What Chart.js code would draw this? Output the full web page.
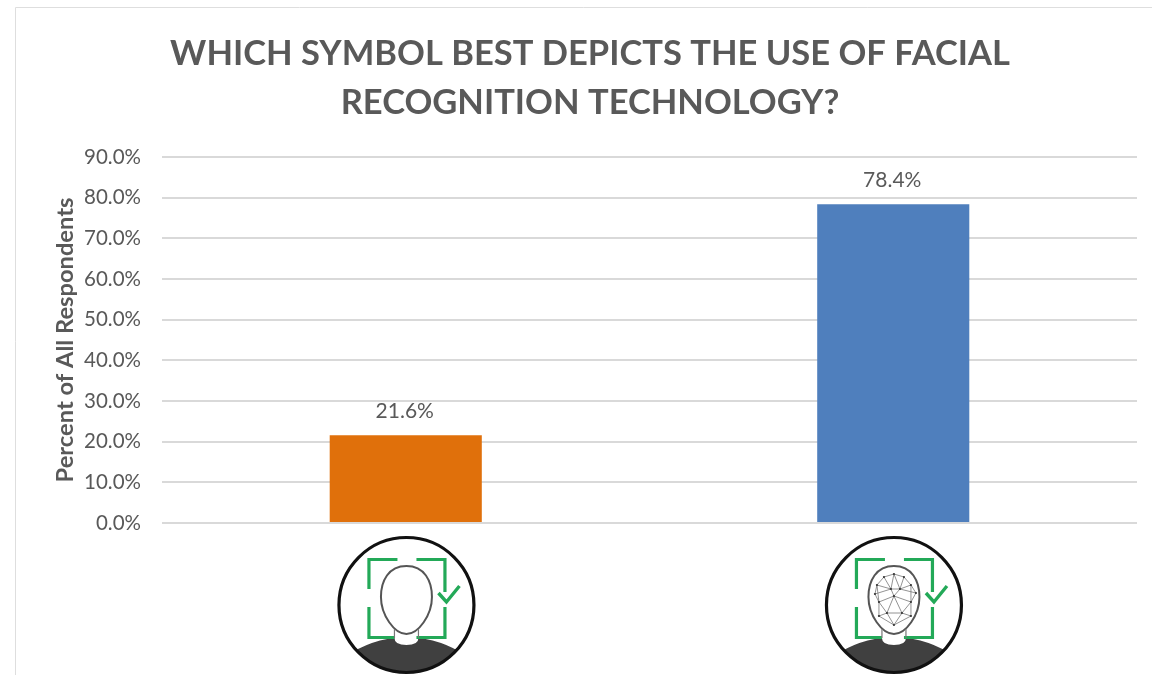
<!DOCTYPE html>
<html>
<head>
<meta charset="utf-8">
<style>
html,body{margin:0;padding:0;background:#fff;overflow:hidden}
#wrap{width:1152px;height:675px;position:relative}
canvas{filter:blur(0.5px)}
</style>
<script src="https://cdn.jsdelivr.net/npm/chart.js@4/dist/chart.umd.min.js"></script>
</head>
<body>
<div id="wrap"><canvas id="c" width="1152" height="675"></canvas></div>
<script>
const categories = ['Face outline symbol', 'Face mesh symbol'];
const percentValues = [21.6, 78.4];
const barColors = ['#E0700B', '#4F7FBD'];
const titleLines = ['WHICH SYMBOL BEST DEPICTS THE USE OF FACIAL', 'RECOGNITION TECHNOLOGY?'];
const yAxisTitle = 'Percent of All Respondents';
const textColor = '#595959';
const FONT = 'Lato, Carlito, "Open Sans", sans-serif';

const meshNodes = [[0,-31],[-10,-28],[10,-28],[17,-20],[-17,-20],[-19,-11],[-3,-16],[6,-16],[22,-12],[-15,-3],[0,-9],[17,-3],[-7,8],[8,8],[-15,11],[17,11],[0,20]];
const meshEdges = [[0,1],[0,2],[1,4],[2,3],[3,8],[4,5],[0,6],[0,7],[1,6],[2,7],[4,6],[3,7],[6,7],[5,9],[8,11],[6,10],[7,10],[4,9],[3,11],[9,10],[10,11],[10,12],[10,13],[9,12],[11,13],[9,14],[11,15],[12,13],[12,14],[13,15],[12,16],[13,16],[14,16],[15,16],[5,6],[7,8]];

function drawIcon(ctx, cx, cy, withMesh) {
  ctx.save();
  ctx.translate(cx, cy);
  ctx.save();
  ctx.beginPath(); ctx.arc(0, 0, 67.5, 0, Math.PI * 2); ctx.clip();
  ctx.fillStyle = '#404040';
  ctx.beginPath();
  ctx.moveTo(-70, 75);
  ctx.lineTo(-70, 58);
  ctx.quadraticCurveTo(-42, 36, -12, 33);
  ctx.quadraticCurveTo(-12, 40, 0, 40);
  ctx.quadraticCurveTo(12, 40, 12, 33);
  ctx.quadraticCurveTo(42, 36, 70, 58);
  ctx.lineTo(70, 75);
  ctx.closePath();
  ctx.fill();
  ctx.restore();
  ctx.strokeStyle = '#111';
  ctx.lineWidth = 3.2;
  ctx.beginPath(); ctx.arc(0, 0, 67.5, 0, Math.PI * 2); ctx.stroke();
  ctx.strokeStyle = '#23A958';
  ctx.lineWidth = 3.2;
  const L = -37.5, R = 38.5, T = -45.5, B = 32.5;
  [[[L,-16],[L,T],[-9,T]], [[10,T],[R,T],[R,-13]], [[L,2],[L,B],[-12,B]], [[R,2],[R,B],[10,B]]].forEach(seg => {
    ctx.beginPath();
    seg.forEach((p, i) => i ? ctx.lineTo(p[0], p[1]) : ctx.moveTo(p[0], p[1]));
    ctx.stroke();
  });
  ctx.lineWidth = 3.4;
  ctx.beginPath(); ctx.moveTo(32, -12); ctx.lineTo(40, -3); ctx.lineTo(53, -19); ctx.stroke();
  ctx.fillStyle = '#fff';
  ctx.strokeStyle = '#555';
  ctx.lineWidth = 2;
  ctx.beginPath();
  ctx.moveTo(0, -39);
  ctx.bezierCurveTo(18, -39, 25.5, -24, 25.5, -8);
  ctx.bezierCurveTo(25.5, 10, 12, 29, 0, 29);
  ctx.bezierCurveTo(-12, 29, -25.5, 10, -25.5, -8);
  ctx.bezierCurveTo(-25.5, -24, -18, -39, 0, -39);
  ctx.closePath();
  ctx.fill(); ctx.stroke();
  ctx.strokeStyle = '#777';
  ctx.lineWidth = 1.2;
  ctx.beginPath(); ctx.moveTo(-12, 24); ctx.lineTo(-12, 33); ctx.moveTo(12, 24); ctx.lineTo(12, 33); ctx.stroke();
  if (withMesh) {
    ctx.strokeStyle = '#777';
    ctx.lineWidth = 0.8;
    meshEdges.forEach(e => {
      ctx.beginPath();
      ctx.moveTo(meshNodes[e[0]][0], meshNodes[e[0]][1]);
      ctx.lineTo(meshNodes[e[1]][0], meshNodes[e[1]][1]);
      ctx.stroke();
    });
    ctx.fillStyle = '#333';
    meshNodes.forEach(n => { ctx.beginPath(); ctx.arc(n[0], n[1], 1.1, 0, Math.PI * 2); ctx.fill(); });
  }
  ctx.restore();
}

const decorPlugin = {
  id: 'decor',
  afterLayout(chart) {
    chart.titleBlock.left += 21.5;
    chart.titleBlock.right += 21.5;
  },
  beforeDraw(chart) {
    const ctx = chart.ctx;
    ctx.save();
    ctx.strokeStyle = '#dedede';
    ctx.lineWidth = 1;
    ctx.beginPath();
    ctx.moveTo(15.5, 675); ctx.lineTo(15.5, 7.5); ctx.lineTo(1152, 7.5);
    ctx.stroke();
    ctx.restore();
  },
  afterDatasetsDraw(chart) {
    const ctx = chart.ctx;
    const meta = chart.getDatasetMeta(0);
    ctx.save();
    ctx.font = '21px ' + FONT;
    ctx.fillStyle = textColor;
    ctx.textAlign = 'center';
    ctx.textBaseline = 'middle';
    meta.data.forEach((bar, i) => {
      ctx.fillText(percentValues[i].toFixed(1) + '%', bar.x - 1, bar.y - 24);
    });
    ctx.restore();
    categories.forEach((c, i) => {
      drawIcon(ctx, chart.scales.x.getPixelForValue(i) + 0.7, 605, i === 1);
    });
  }
};

Chart.defaults.font.family = FONT;
new Chart(document.getElementById('c'), {
  type: 'bar',
  data: {
    labels: categories,
    datasets: [{
      data: percentValues,
      backgroundColor: barColors,
      barPercentage: 0.312,
      categoryPercentage: 1
    }]
  },
  options: {
    responsive: false,
    animation: false,
    layout: { padding: { left: 0, right: 15, top: 0, bottom: 144 } },
    plugins: {
      legend: { display: false },
      tooltip: { enabled: false },
      title: {
        display: true,
        text: titleLines,
        color: textColor,
        font: { size: 34.5, weight: 'bold', family: FONT, lineHeight: 1.42 },
        padding: { top: 29, bottom: 30 }
      }
    },
    scales: {
      x: {
        ticks: { display: false },
        grid: { display: false },
        border: { display: false }
      },
      y: {
        min: 0,
        max: 90,
        afterFit(scale) { scale.width = 162; },
        ticks: {
          stepSize: 10,
          color: textColor,
          padding: 21,
          font: { size: 20.5 },
          callback: v => Number(v).toFixed(1) + '%'
        },
        grid: { color: '#d9d9d9', lineWidth: 2, drawTicks: false },
        border: { display: false },
        title: {
          display: true,
          text: yAxisTitle,
          color: textColor,
          font: { size: 23.7, weight: 'bold' },
          padding: { top: 51, bottom: 0 }
        }
      }
    }
  },
  plugins: [decorPlugin]
});
</script>
</body>
</html>
